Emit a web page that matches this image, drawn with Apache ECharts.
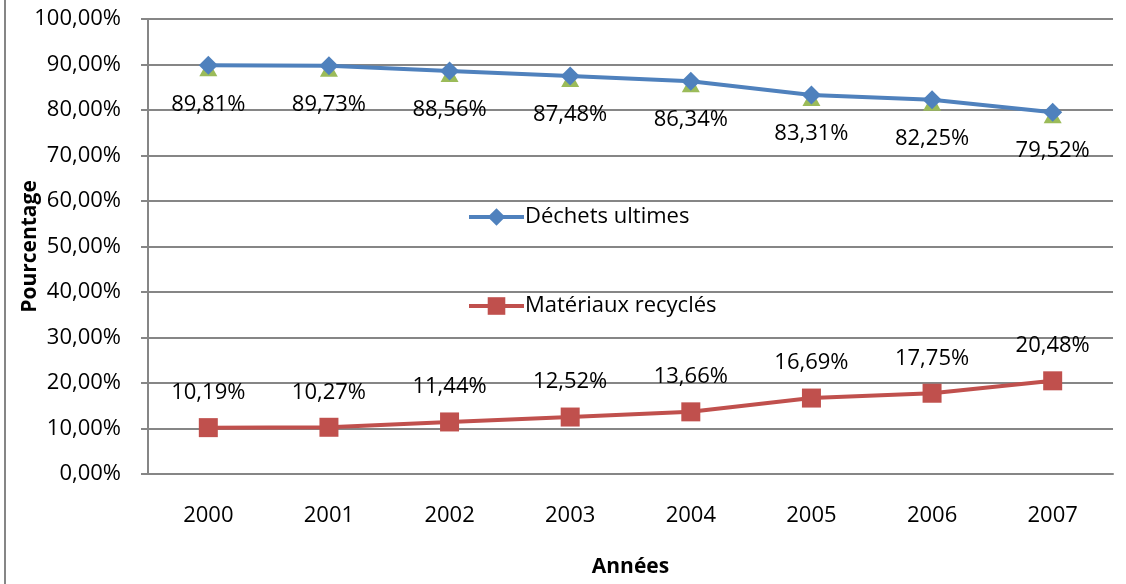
<!DOCTYPE html>
<html>
<head>
<meta charset="utf-8">
<script src="https://cdn.jsdelivr.net/npm/echarts@6/dist/echarts.min.js"></script>
<style>
  html, body { margin: 0; padding: 0; background: #fff; }
  #chart { width: 1126px; height: 584px; }
</style>
</head>
<body>
<div id="chart"></div>
<script>
// données
var annees = ['2000', '2001', '2002', '2003', '2004', '2005', '2006', '2007'];
var dechetsUltimes = [89.81, 89.73, 88.56, 87.48, 86.34, 83.31, 82.25, 79.52];
var materiauxRecycles = [10.19, 10.27, 11.44, 12.52, 13.66, 16.69, 17.75, 20.48];
// série cachée (triangles verts sous les losanges)
var serieTriangles = [89.81, 89.73, 88.56, 87.48, 86.34, 83.31, 82.25, 79.52];

var police = '"Open Sans", sans-serif';

function pct(v) {
  return v.toFixed(2).replace('.', ',') + '%';
}

var myChart = echarts.init(document.getElementById('chart'));
var option = {
  backgroundColor: '#fff',
  animation: false,
  textStyle: { fontFamily: police },
  grid: { left: 148, right: 13, top: 19, bottom: 110, containLabel: false, outerBoundsMode: 'none' },
  legend: {
    orient: 'vertical',
    left: 462,
    top: 201,
    itemWidth: 55,
    itemHeight: 22,
    itemGap: 67,
    lineStyle: { width: 4 },
    textStyle: { color: '#000', fontSize: 22, fontFamily: police, padding: [0, 0, 0, -4] },
    data: ['Déchets ultimes', 'Matériaux recyclés']
  },
  xAxis: {
    type: 'category',
    data: annees,
    name: 'Années',
    nameLocation: 'middle',
    nameGap: 83,
    nameMoveOverlap: false,
    nameTextStyle: { color: '#000', fontSize: 21, fontWeight: 'bold', fontFamily: police },
    axisLine: { lineStyle: { color: '#868686', width: 2 } },
    axisTick: { length: 7, lineStyle: { color: '#868686', width: 2 } },
    axisLabel: { color: '#000', fontSize: 22, margin: 31 }
  },
  yAxis: {
    type: 'value',
    min: 0,
    max: 100,
    interval: 10,
    name: 'Pourcentage',
    nameLocation: 'middle',
    nameGap: 107,
    nameMoveOverlap: false,
    nameTextStyle: { color: '#000', fontSize: 21, fontWeight: 'bold', fontFamily: police },
    axisLine: { show: true, lineStyle: { color: '#868686', width: 2 } },
    axisTick: { show: true, length: 7, lineStyle: { color: '#868686', width: 2 } },
    axisLabel: { color: '#000', fontSize: 22, margin: 27, formatter: pct },
    splitLine: { lineStyle: { color: '#868686', width: 2 } }
  },
  graphic: [
    {
      type: 'line',
      shape: { x1: 5, y1: 0, x2: 5, y2: 584 },
      style: { stroke: '#868686', lineWidth: 2 }
    }
  ],
  series: [
    {
      name: 'Triangles',
      type: 'line',
      data: serieTriangles,
      symbol: 'triangle',
      symbolSize: [18, 16],
      symbolOffset: [0, 3],
      lineStyle: { width: 0, opacity: 0 },
      itemStyle: { color: '#9BBB59' },
      z: 1
    },
    {
      name: 'Déchets ultimes',
      type: 'line',
      data: dechetsUltimes,
      symbol: 'diamond',
      symbolSize: 19,
      lineStyle: { color: '#4F81BD', width: 4 },
      itemStyle: { color: '#4F81BD' },
      label: {
        show: true,
        position: 'inside',
        offset: [0, 39],
        color: '#000',
        fontSize: 22,
        formatter: function (p) { return pct(p.value); }
      },
      z: 3
    },
    {
      name: 'Matériaux recyclés',
      type: 'line',
      data: materiauxRecycles,
      symbol: 'rect',
      symbolSize: 19,
      lineStyle: { color: '#C0504D', width: 4 },
      itemStyle: { color: '#C0504D' },
      label: {
        show: true,
        position: 'inside',
        offset: [0, -35],
        color: '#000',
        fontSize: 22,
        formatter: function (p) { return pct(p.value); }
      },
      z: 3
    }
  ]
};
option && myChart.setOption(option);
</script>
</body>
</html>
